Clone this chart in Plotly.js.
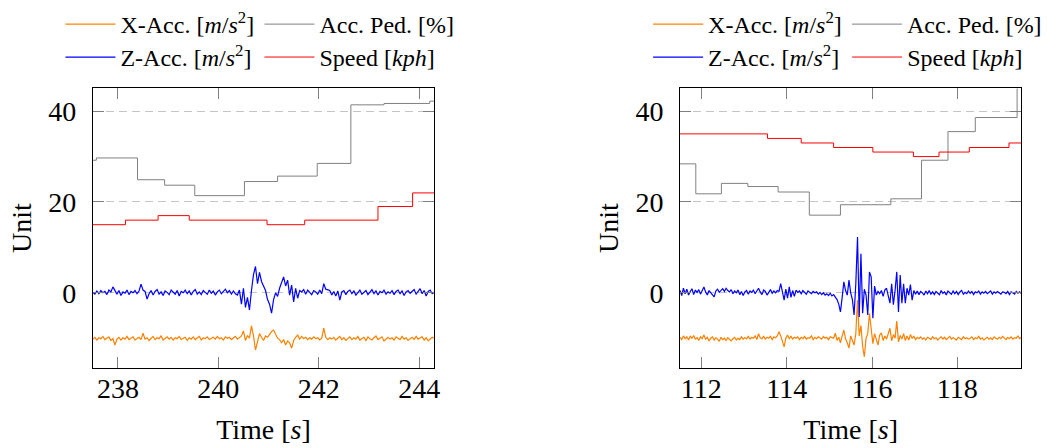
<!DOCTYPE html>
<html>
<head>
<meta charset="utf-8">
<script src="https://cdn.plot.ly/plotly-3.0.1.min.js"></script>
<style>
  html, body { margin: 0; padding: 0; background: #fff; }
  #chart { width: 1047px; height: 448px; }
</style>
</head>
<body>
<div id="chart"></div>
<script>
// ---------- Run A: 237.5 s – 244.3 s ----------
const runA_t0 = 237.5;
const runA_dt = 0.04;           // accelerometer sample interval [s]
const runA_xAcc = [
  -10.2, -9.8, -10.4, -9.9, -10.1, -9.6, -10.3, -10.0, -9.7, -10.5,
  -10.1, -11.5, -10.2, -9.8, -10.4, -9.9, -10.2, -9.6, -10.3, -10.0,
  -9.7, -10.4, -10.1, -9.8, -10.3, -8.9, -10.2, -9.9, -10.5, -10.0,
  -9.6, -10.3, -9.9, -10.1, -9.5, -10.4, -10.0, -9.7, -10.2, -9.8,
  -10.4, -9.9, -10.1, -9.6, -10.3, -10.0, -9.8, -10.5, -9.9, -10.2,
  -9.7, -10.3, -10.0, -9.6, -10.4, -9.9, -10.1, -9.7, -10.3, -10.0,
  -9.8, -10.2, -9.6, -10.1, -9.9, -10.4, -9.7, -10.0, -9.8, -10.3,
  -9.9, -9.6, -10.2, -9.8, -9.5, -8.4, -10.5, -9.4, -10.0, -7.3,
  -9.5, -12.6, -11.0, -9.0, -9.8, -10.5, -9.5, -9.8, -9.2, -8.5,
  -8.2, -9.0, -10.0, -10.3, -11.0, -10.3, -11.5, -10.6, -11.0, -12.2,
  -10.5, -9.8, -9.3, -10.2, -9.6, -10.1, -9.8, -10.3, -9.9, -10.2,
  -9.7, -10.1, -9.9, -10.4, -10.0, -7.8, -9.8, -10.3, -9.9, -10.2,
  -9.8, -10.4, -10.0, -9.6, -10.3, -9.9, -10.5, -10.1, -9.7, -10.3,
  -9.9, -10.2, -9.6, -10.4, -10.0, -9.8, -10.5, -9.7, -10.1, -10.4,
  -9.9, -9.5, -10.3, -10.0, -9.7, -10.6, -10.1, -9.8, -10.2, -9.9,
  -10.4, -9.7, -10.0, -10.3, -9.6, -10.2, -9.9, -10.5, -10.1, -9.8,
  -10.3, -9.6, -10.2, -10.0, -9.7, -10.4, -9.9, -10.6, -10.1, -9.8, -10.0
];
const runA_zAcc = [
  0.1, -0.3, 0.4, -0.2, 0.5, 0.0, 0.3, -0.4, 0.6, 0.2,
  1.3, 0.4, -0.3, 0.5, -0.6, 0.2, -0.1, 0.6, -0.4, 0.3,
  0.0, 0.5, -0.2, 0.4, 1.9, 0.6, 0.3, -1.4, -0.2, 0.5,
  -0.5, 0.3, 0.7, -0.3, 0.2, -0.6, 0.4, 0.1, -0.4, 0.6,
  0.2, -0.3, 0.5, -0.7, 0.3, 0.0, 0.6, -0.2, 0.4, -0.5,
  0.3, 0.7, -0.3, 0.2, -0.4, 0.5, 0.1, -0.3, 0.6, -0.1,
  0.4, -0.5, 0.2, 0.6, -0.2, 0.3, 0.8, 0.0, 0.5, -0.3,
  0.4, -0.2, -0.5, 0.6, -2.5, 1.0, -3.2, -1.0, -3.8, 0.5,
  4.0, 5.8, 2.0, 4.5, 2.5, 1.5, 0.5, -1.5, -2.5, -4.5,
  -1.5, 0.0, -0.8, 1.0, 2.4, 3.5, 1.5, 2.8, -0.5, 1.7,
  -2.0, 1.0, -1.2, 0.5, 0.2, 0.7, -0.3, 0.6, 0.1, -0.4,
  0.5, 0.2, -0.3, 0.6, -0.2, 2.0, 0.8, 0.6, 0.5, -0.5,
  0.3, -0.7, 0.4, -1.6, 0.2, 0.5, -0.4, 0.3, 0.6, -0.2,
  0.4, -0.5, 0.2, 0.6, -0.3, 0.1, 0.5, -0.4, 0.3, 0.7,
  -0.2, 0.4, -0.5, 0.3, 0.0, 0.6, -0.3, 0.2, -0.1, 0.5,
  -0.4, 0.3, 0.6, -0.2, 0.4, -0.6, 0.2, 0.5, -0.1, 0.3,
  0.7, -0.3, 0.4, 0.9, -0.2, 0.5, -0.7, 0.3, 0.6, -0.2, 0.1
];
// step signals: value holds from each time until the next one
const runA_pedT   = [237.5, 237.57, 238.39, 238.93, 239.53, 240.52, 241.18, 241.97, 242.64, 243.30, 244.21, 244.3];
const runA_pedV   = [29.2, 29.7, 24.9, 23.7, 21.4, 24.5, 25.7, 28.5, 41.4, 41.7, 42.2, 42.2];
const runA_speedT = [237.5, 238.15, 238.80, 239.42, 240.97, 241.72, 243.18, 243.87, 244.3];
const runA_speedV = [15, 16, 17, 16, 15, 16, 19, 22, 22];

// ---------- Run B: 111.5 s – 119.5 s ----------
const runB_t0 = 111.5;
const runB_dt = 0.04;
const runB_xAcc = [
  -9.8, -10.3, -9.5, -10.1, -9.7, -10.4, -9.6, -10.0, -9.4, -10.2,
  -9.9, -10.5, -9.7, -10.1, -9.3, -10.2, -9.8, -10.6, -10.0, -9.7,
  -10.4, -9.9, -10.2, -10.7, -9.8, -10.3, -10.0, -10.5, -9.9, -10.2,
  -10.6, -10.1, -9.8, -10.4, -10.0, -10.3, -9.7, -10.2, -9.9, -10.1,
  -9.6, -10.2, -9.8, -10.0, -9.5, -10.3, -9.0, -9.9, -10.1, -9.6,
  -10.2, -9.8, -10.0, -9.6, -10.3, -9.7, -9.9, -9.5, -8.6, -9.5,
  -10.8, -11.9, -10.0, -9.3, -10.1, -9.6, -10.2, -9.8, -10.0, -9.7,
  -10.3, -9.8, -10.1, -9.6, -10.2, -9.9, -10.0, -9.5, -10.3, -9.8,
  -10.1, -9.7, -9.9, -10.2, -9.6, -10.0, -9.8, -10.3, -9.7, -9.9,
  -10.0, -8.9, -10.5, -9.8, -11.0, -9.5, -8.2, -10.2, -11.0, -12.2,
  -9.5, -10.5, -11.5, -9.0, -1.6, -9.5, -7.2, -11.8, -14.1, -10.0,
  -9.0, -4.5, -8.0, -11.2, -9.0, -10.2, -11.5, -9.3, -8.8, -10.5,
  -9.5, -10.2, -9.0, -7.8, -10.6, -9.2, -10.0, -6.2, -10.8, -9.4,
  -10.2, -9.0, -10.5, -9.5, -10.4, -9.2, -10.0, -9.6, -10.3, -9.8,
  -10.1, -9.7, -10.2, -9.9, -10.4, -9.8, -10.0, -10.3, -9.7, -10.1,
  -9.9, -10.4, -10.0, -9.7, -10.2, -9.8, -10.3, -10.0, -9.6, -10.2,
  -9.9, -10.1, -10.4, -9.8, -10.0, -10.3, -9.7, -10.1, -9.9, -10.2,
  -10.0, -9.7, -10.3, -9.9, -10.1, -9.6, -10.2, -9.9, -10.4, -10.0,
  -9.8, -10.2, -9.9, -10.3, -9.7, -10.0, -10.2, -9.8, -10.1, -9.6,
  -10.0, -10.3, -9.8, -10.1, -9.7, -10.2, -9.9, -10.0, -9.5, -10.1, -9.8
];
const runB_zAcc = [
  0.5, -0.6, 1.0, -0.2, 0.8, -0.5, 0.3, 0.9, -0.4, 0.6,
  0.1, 0.7, -0.3, 0.4, 1.3, 0.2, -0.5, 0.5, 0.0, -0.3,
  -0.9, 0.4, 0.8, 0.1, 0.6, 0.9, 0.3, 1.0, 0.5, 0.2,
  0.7, -0.2, 0.4, 0.0, 0.6, -0.4, 0.3, -0.6, 0.2, 0.5,
  -0.3, 0.4, 0.1, 0.6, -0.2, 0.5, 1.0, 0.2, -0.4, 0.6,
  0.3, -0.5, 0.2, 0.7, -0.1, 0.4, 0.0, 0.5, 0.3, 2.0,
  0.2, -1.6, 0.8, -1.2, 1.3, -1.0, 0.5, -0.8, 0.6, 0.1,
  0.4, -0.2, 0.5, 0.2, -0.3, 0.4, 0.1, -0.2, 0.3, 0.0,
  0.2, -0.3, 0.1, -0.4, 0.0, -0.5, -0.2, -0.6, -0.1, -0.7,
  -0.4, -0.9, -1.5, -2.5, -4.2, -1.0, 2.4, 0.5, -0.5, 2.8,
  0.0, -1.5, -4.9, 2.0, 12.3, -5.3, 8.6, -4.5, 0.8, -0.5,
  -4.9, 4.6, 3.5, -5.6, 1.5, -0.5, 0.3, -0.2, 0.5, -0.8,
  0.6, 1.0, -0.5, -2.3, 2.0, -2.6, 0.5, 4.6, -4.2, 3.9,
  -2.3, 2.0, -2.3, 1.0, -0.5, 1.8, -1.6, 0.5, -0.3, 0.4,
  -0.4, 0.3, 0.0, -0.5, 0.4, -0.2, 0.5, -0.3, 0.2, -0.4,
  0.3, 0.0, -0.4, 0.5, -0.1, 0.2, -0.5, 0.4, 0.1, -0.3,
  0.4, -0.2, 0.3, -0.4, 0.2, 0.5, -0.3, 0.1, -0.2, 0.4,
  -0.1, 0.3, -0.4, 0.2, 0.0, 0.4, -0.3, 0.2, -0.1, 0.3,
  -0.2, 0.1, 0.4, -0.3, 0.2, -0.1, 0.3, 0.0, -0.3, 0.2,
  0.1, -0.2, 0.3, -0.4, 0.2, 0.0, -0.3, 0.3, -0.1, 0.2, -0.2
];
const runB_pedT   = [111.5, 111.87, 112.47, 113.09, 113.80, 114.53, 115.26, 116.44, 117.16, 117.78, 118.42, 119.40, 119.5];
const runB_pedV   = [28.4, 21.8, 24.1, 23.4, 22.2, 17.1, 19.4, 20.7, 29.2, 35.5, 38.6, 47, 47];
const runB_speedT = [111.5, 113.55, 114.34, 115.10, 116.02, 116.97, 117.57, 118.28, 119.21, 119.5];
const runB_speedV = [35, 34, 33, 32, 31, 30, 31, 32, 33, 33];

// axis ticks
const runA_ticks = [238, 240, 242, 244];
const runB_ticks = [112, 114, 116, 118];
const yTicks = [0, 20, 40];

// series names and colours
const NAMES = {
  x: 'X-Acc. [<i>m</i>/<i>s</i><sup>2</sup>]',
  ped: 'Acc. Ped. [%]',
  z: 'Z-Acc. [<i>m</i>/<i>s</i><sup>2</sup>]',
  speed: 'Speed [<i>kph</i>]'
};
const COLORS = { x: '#ff8000', ped: '#808080', z: '#0000ff', speed: '#ff0000' };

const sampleTimes = (t0, dt, n) => Array.from({ length: n }, (_, i) => +(t0 + i * dt).toFixed(3));

// every series gets its own legend box so the 2x2 key above each panel
// can be laid out as a grid: [x-acc | pedal] / [z-acc | speed]
function runTraces(xa, ya, leg, t0, dt, xAcc, zAcc, pedT, pedV, spT, spV) {
  const tx = sampleTimes(t0, dt, xAcc.length);
  const tz = sampleTimes(t0, dt, zAcc.length);
  const base = { type: 'scatter', mode: 'lines', xaxis: xa, yaxis: ya, hoverinfo: 'skip' };
  return [
    Object.assign({}, base, { x: tx, y: xAcc, name: NAMES.x, legend: leg[0], line: { color: COLORS.x, width: 1.2 } }),
    Object.assign({}, base, { x: pedT, y: pedV, name: NAMES.ped, legend: leg[1], line: { color: COLORS.ped, width: 1, shape: 'hv' } }),
    Object.assign({}, base, { x: tz, y: zAcc, name: NAMES.z, legend: leg[2], line: { color: COLORS.z, width: 1.2 } }),
    Object.assign({}, base, { x: spT, y: spV, name: NAMES.speed, legend: leg[3], line: { color: COLORS.speed, width: 1, shape: 'hv' } })
  ];
}

const data = [].concat(
  runTraces('x', 'y', ['legend', 'legend2', 'legend3', 'legend4'],
    runA_t0, runA_dt, runA_xAcc, runA_zAcc, runA_pedT, runA_pedV, runA_speedT, runA_speedV),
  runTraces('x2', 'y2', ['legend5', 'legend6', 'legend7', 'legend8'],
    runB_t0, runB_dt, runB_xAcc, runB_zAcc, runB_pedT, runB_pedV, runB_speedT, runB_speedV)
);

const FONT = "'Liberation Serif', 'DejaVu Serif', serif";

const xCommon = {
  showline: true, linecolor: '#000', linewidth: 1, mirror: 'ticks',
  ticks: 'inside', ticklen: 11, tickwidth: 1, tickcolor: '#7f7f7f',
  showgrid: false, zeroline: false, tickfont: { size: 28, family: FONT }, ticklabelstandoff: -4,
  title: { text: 'Time [<i>s</i>]', font: { size: 28, family: FONT }, standoff: 16 }
};
const yCommon = {
  range: [-16.5, 45], domain: [0.1792, 0.8025], tickvals: yTicks,
  showline: true, linecolor: '#000', linewidth: 1, mirror: 'ticks',
  ticks: 'inside', ticklen: 11, tickwidth: 1, tickcolor: '#7f7f7f',
  showgrid: true, gridcolor: '#c4c4c4', gridwidth: 1, griddash: '8px,5px',
  zeroline: false, tickfont: { size: 28, family: FONT }, ticklabelstandoff: 10,
  title: { text: 'Unit', font: { size: 28, family: FONT }, standoff: 8 }
};

function legendAt(x, y) {
  return {
    x: x, y: y, xanchor: 'left', yanchor: 'top', orientation: 'v',
    bgcolor: 'rgba(0,0,0,0)', borderwidth: 0, itemwidth: 50,
    font: { size: 24, family: FONT, color: '#000' },
    itemclick: false, itemdoubleclick: false
  };
}

const COL1_A = 0.058, COL2_A = 0.249, COL1_B = 0.622, COL2_B = 0.813;
const ROW1 = 0.9955, ROW2 = 0.922;

const layout = {
  width: 1047, height: 448,
  margin: { l: 0, r: 0, t: 0, b: 0 },
  paper_bgcolor: '#fff', plot_bgcolor: '#fff',
  font: { family: FONT, color: '#000', size: 28 },
  showlegend: true,
  xaxis: Object.assign({}, xCommon, { domain: [0.0891, 0.4167], range: [237.5, 244.3], tickvals: runA_ticks, anchor: 'y' }),
  yaxis: Object.assign({}, yCommon, { anchor: 'x' }),
  xaxis2: Object.assign({}, xCommon, { domain: [0.6526, 0.9802], range: [111.5, 119.5], tickvals: runB_ticks, anchor: 'y2' }),
  yaxis2: Object.assign({}, yCommon, { anchor: 'x2' }),
  legend:  legendAt(COL1_A, ROW1),
  legend2: legendAt(COL2_A, ROW1),
  legend3: legendAt(COL1_A, ROW2),
  legend4: legendAt(COL2_A, ROW2),
  legend5: legendAt(COL1_B, ROW1),
  legend6: legendAt(COL2_B, ROW1),
  legend7: legendAt(COL1_B, ROW2),
  legend8: legendAt(COL2_B, ROW2)
};

Plotly.newPlot('chart', data, layout, { staticPlot: true, displayModeBar: false });
</script>
</body>
</html>
